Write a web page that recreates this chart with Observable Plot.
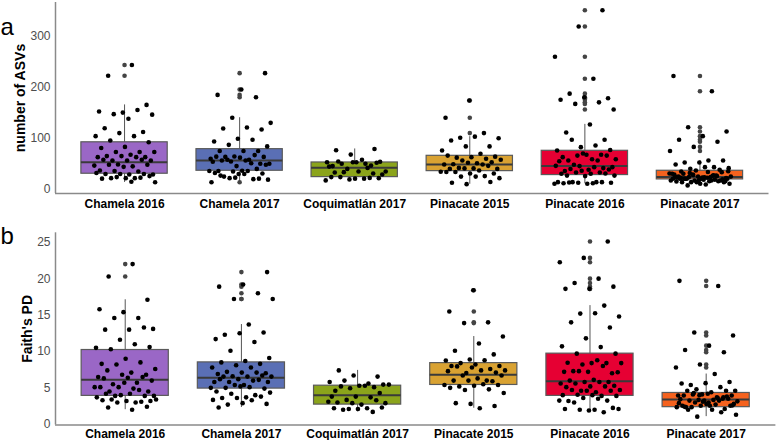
<!DOCTYPE html>
<html><head><meta charset="utf-8">
<script src="https://cdn.jsdelivr.net/npm/d3@7"></script>
<script src="https://cdn.jsdelivr.net/npm/@observablehq/plot@0.6"></script>
<style>
html,body{margin:0;padding:0;background:#fff;}
#chart{width:777px;height:440px;position:relative;overflow:hidden;background:#fff;}
#chart svg{display:block;overflow:visible;}
</style></head><body><div id="chart"></div>
<script>
const groups = ["Chamela 2016", "Chamela 2017", "Coquimatlán 2017", "Pinacate 2015", "Pinacate 2016", "Pinacate 2017"];
const boxColors = ["#9a67c6", "#5a6fb5", "#8ba41b", "#d9a232", "#e60033", "#f5621e"];
const asvTicks = [0, 100, 200, 300];
const faithTicks = [0, 5, 10, 15, 20, 25];

// box statistics
const asvQ1 = [30.6, 36.4, 24, 35.7, 28, 19.5];
const asvMedian = [53, 56.5, 42.3, 48.7, 45.5, 24];
const asvQ3 = [92, 78.6, 52.6, 65.6, 75.4, 36.4];
const asvWhiskerLow = [13.6, 14.2, 17.5, 10, 11, 7.8];
const asvWhiskerHigh = [165, 140, 79, 103, 127, 56.5];

const faithQ1 = [3.9, 4.9, 2.7, 5.4, 3.9, 2.35];
const faithMedian = [6.1, 6.4, 4.0, 6.8, 5.9, 3.4];
const faithQ3 = [10.2, 8.5, 5.3, 8.4, 9.7, 4.3];
const faithWhiskerLow = [2.0, 2.3, 1.7, 2.2, 1.65, 1.05];
const faithWhiskerHigh = [17.1, 13.7, 7.4, 12.05, 16.3, 6.9];

// number of ASVs per sample
const asvChamela2016 = [243, 222, 165, 150, 152, 155, 147, 146, 138, 119.5, 112, 110, 104, 104, 95.5, 92, 83, 81, 73, 73, 73, 67.6, 65, 63, 65, 63, 63, 56.5, 56.5, 56.5, 58, 58, 48.7, 46.5, 45, 48, 48, 44, 37, 35, 36, 29, 29, 30, 30, 30, 32, 22, 22, 26, 22, 21, 23, 24, 14, 15];
const asvChamela2017 = [227, 195, 184.6, 180, 140, 130, 121, 119, 117, 99, 93.5, 97, 87, 84, 75, 75, 75, 64.3, 60, 58, 63.5, 63.5, 62, 64, 67, 54.6, 50, 56.5, 56.5, 50, 45.5, 54, 51, 58, 48, 36.4, 36, 40, 35, 36, 36, 25, 31, 30, 32, 20, 22, 19, 30, 27, 21, 23, 14];
const asvCoquimatlan2017 = [76.6, 79, 68, 53, 50, 50, 54, 53, 45.5, 46.5, 40, 35, 58, 54.6, 52, 53, 44.5, 42, 33.7, 29, 35, 33, 31, 19.5, 17.6, 21, 24, 22, 21, 24, 22.5];
const asvPinacate2015 = [173.5, 140, 110, 101, 100, 103, 95.5, 84, 84, 76, 69.5, 62, 64, 63, 66, 60, 56.5, 58, 51, 49, 53, 52, 48.7, 48.7, 42, 40, 41, 40, 46, 41, 34.5, 37, 34, 31, 31, 34, 26, 25, 22, 25, 13, 14.5, 10.3];
const asvPinacate2016 = [350, 318, 259, 216, 187, 178, 180, 175, 170, 167, 156, 126.7, 111, 97, 82.5, 76, 85.8, 97, 77, 67.6, 63, 67.6, 66, 59, 59, 56.5, 66, 70, 55, 56.5, 48, 43.5, 38.3, 36, 41.6, 45.5, 46, 43.5, 39.8, 39, 26, 30.5, 33, 33, 27, 30.5, 27, 31, 36.4, 14.2, 14.2, 14.2, 13, 11, 12, 14.2, 13, 11, 12, 13.5];
const asvPinacate2017 = [221.6, 191.6, 121.4, 113, 104, 97, 93, 83, 75, 56.5, 52.6, 56.5, 52.6, 48.7, 43.5, 40.3, 41.5, 43.5, 35, 38.3, 37, 30.5, 24, 20.8, 16, 20.8, 24, 27, 29, 25, 22.8, 30.5, 33.7, 25, 29, 26.7, 24, 20.8, 19, 20.8, 16, 17.5, 17.5, 16, 20.8, 14.2, 11, 15.6, 19, 14.2, 11, 9.7, 14.2, 17.5, 14.2, 20.8, 17.5, 7.8, 22, 23, 25, 26, 28, 31, 34, 21, 19.5, 18, 24.5, 27.5, 32, 35.5, 23.5, 22.5];

// Faith's PD per sample
const faithChamela2016 = [22.0, 20.3, 17.1, 15.4, 15.8, 14.6, 14.6, 13.1, 13.0, 13.0, 13.3, 11.6, 10.5, 11.0, 10.3, 10.6, 9.0, 8.3, 8.5, 8.2, 7.6, 7.1, 7.4, 6.8, 6.8, 6.5, 5.7, 5.5, 6.0, 6.4, 6.3, 6.5, 5.1, 5.1, 4.9, 4.5, 4.5, 5.7, 5.1, 4.7, 3.9, 3.9, 4.2, 4.2, 3.9, 4.0, 3.7, 3.0, 3.4, 3.2, 3.2, 3.3, 3.1, 3.0, 3.4, 2.0, 2.3, 2.4];
const faithChamela2017 = [20.9, 19.2, 18.9, 18.0, 17.2, 17.2, 13.7, 12.3, 12.6, 12.5, 11.7, 11.3, 10.1, 9.1, 8.7, 8.5, 8.3, 8.1, 7.8, 7.8, 7.2, 7.0, 7.1, 6.9, 7.1, 6.6, 6.55, 6.55, 6.55, 6.7, 6.2, 5.8, 6.0, 5.8, 5.8, 5.4, 6.2, 6.1, 5.4, 5.0, 5.1, 5.0, 4.9, 5.2, 4.5, 4.0, 4.2, 4.35, 3.7, 3.6, 3.8, 3.6, 3.35, 3.3, 2.7, 2.8, 2.9, 2.3];
const faithCoquimatlan2017 = [7.4, 6.55, 6.7, 5.8, 5.6, 6.0, 5.45, 5.3, 4.6, 5.1, 4.95, 5.45, 5.3, 5.2, 4.3, 3.8, 3.8, 3.7, 3.35, 2.9, 2.7, 3.0, 3.3, 2.9, 3.1, 2.2, 2.0, 2.3, 2.1, 2.2, 1.7, 2.1];
const faithPinacate2015 = [18.4, 15.5, 14.0, 13.9, 12.05, 11.1, 10.1, 9.6, 8.9, 8.75, 8.8, 8.4, 8.0, 8.2, 8.0, 7.6, 7.05, 7.4, 7.4, 7.95, 7.1, 7.8, 7.3, 6.0, 6.7, 6.7, 6.3, 6.0, 5.9, 6.0, 5.4, 5.5, 5.2, 5.4, 5.3, 5.0, 4.8, 4.7, 4.3, 2.2, 2.9, 2.5, 2.8];
const faithPinacate2016 = [25.1, 22.85, 22.25, 20.0, 19.4, 18.9, 18.6, 18.6, 16.3, 15.2, 14.8, 15.25, 14.0, 13.3, 11.8, 10.7, 10.6, 9.7, 9.7, 8.4, 8.45, 8.4, 8.2, 8.4, 8.8, 7.3, 7.0, 7.2, 7.2, 8.0, 7.3, 7.15, 6.1, 6.0, 5.8, 5.8, 5.6, 5.8, 5.6, 5.3, 5.2, 5.1, 5.2, 4.6, 4.7, 4.4, 4.7, 4.6, 4.6, 4.0, 3.9, 4.05, 3.9, 4.0, 3.2, 3.25, 3.6, 3.25, 3.5, 3.0, 2.25, 1.9, 2.1, 1.65, 2.0, 2.1, 2.0];
const faithPinacate2017 = [19.7, 19.0, 12.6, 12.2, 10.8, 10.2, 9.9, 8.2, 7.8, 6.9, 5.4, 5.8, 5.65, 5.6, 5.1, 4.8, 4.6, 4.4, 4.6, 4.6, 4.1, 3.95, 3.7, 4.1, 3.95, 4.2, 3.95, 3.5, 3.35, 3.15, 3.35, 3.25, 3.5, 3.25, 3.45, 3.25, 3.0, 2.8, 2.55, 2.35, 2.1, 2.55, 2.35, 2.7, 2.35, 2.55, 2.8, 2.55, 1.65, 1.05, 1.3, 2.0, 2.0, 3.8, 3.1, 2.9, 3.6, 4.3, 2.6, 3.0, 2.4, 3.7, 4.0];

// deterministic horizontal jitter (position only, not data)
function jitter(i, g) {
  const u = ((i + 1) * 0.6180339887 + g * 0.2912) % 1;
  return (u - 0.5) * 0.54;
}

const FONT = "'Liberation Sans', Arial, Helvetica, sans-serif";

function panel(o) {
  const stats = groups.map((name, g) => ({g, name, q1: o.q1[g], med: o.med[g], q3: o.q3[g], lo: o.lo[g], hi: o.hi[g]}));
  const points = o.samples.flatMap((vals, g) => vals.map((v, i) => ({g, v, x: g + jitter(i, g)})));
  const outliers = points.filter(d => d.v > o.hi[d.g] || d.v < o.lo[d.g]);
  const half = 0.375;
  return Plot.plot({
    width: 777,
    height: o.height,
    marginLeft: 55,
    marginRight: o.marginRight,
    marginTop: o.marginTop,
    marginBottom: o.marginBottom,
    style: {fontFamily: FONT, fontSize: "12px", overflow: "visible", background: "white"},
    x: {type: "linear", domain: [-0.6, 5.6], axis: null},
    y: {domain: o.domain, axis: null},
    color: {domain: groups, range: boxColors},
    marks: [
      Plot.ruleX(stats, {x: "g", y1: "lo", y2: "hi", stroke: "#555", strokeWidth: 1}),
      Plot.rect(stats, {x1: d => d.g - half, x2: d => d.g + half, y1: "q1", y2: "q3", fill: "name", stroke: "#5a5a5a", strokeWidth: 1.2}),
      Plot.ruleY(stats, {y: "med", x1: d => d.g - half, x2: d => d.g + half, stroke: "#3a3a3a", strokeWidth: 2}),
      Plot.dot(outliers, {x: "g", y: "v", r: 2.3, fill: "#444", stroke: null}),
      Plot.dot(points, {x: "x", y: "v", r: 2.3, fill: "black", stroke: null}),
      Plot.ruleX([-0.6], {stroke: "#8a8a8a", strokeWidth: 1.5}),
      Plot.ruleY([o.domain[0]], {stroke: "#8a8a8a", strokeWidth: 1.5}),
      Plot.axisY({ticks: o.ticks, tickSize: 0, tickPadding: 5, label: null, color: "#4d4d4d", fontSize: 12}),
      Plot.axisX({ticks: d3.range(groups.length), tickFormat: i => groups[i], tickSize: 0, tickPadding: o.xPad, label: null, fontWeight: "bold", color: "black", fontSize: 12}),
      Plot.text([o.label], {frameAnchor: "left", dx: o.labelDx, rotate: -90, textAnchor: "middle", lineAnchor: "middle", fontWeight: "bold", fontSize: 14, fill: "black"}),
      Plot.text([o.letter], {frameAnchor: "top-left", dx: -55, dy: o.letterDy, textAnchor: "start", lineAnchor: "bottom", fontSize: 24, fill: "black"})
    ]
  });
}

const chart = document.getElementById("chart");
chart.appendChild(panel({
  letter: "a", label: "number of ASVs",
  samples: [asvChamela2016, asvChamela2017, asvCoquimatlan2017, asvPinacate2015, asvPinacate2016, asvPinacate2017],
  q1: asvQ1, med: asvMedian, q3: asvQ3, lo: asvWhiskerLow, hi: asvWhiskerHigh,
  ticks: asvTicks, domain: [-8, 365],
  height: 215, marginTop: 2, marginBottom: 22, marginRight: 8.5, letterDy: 32, labelDx: -35, xPad: 6
}));
chart.appendChild(panel({
  letter: "b", label: "Faith's PD",
  samples: [faithChamela2016, faithChamela2017, faithCoquimatlan2017, faithPinacate2015, faithPinacate2016, faithPinacate2017],
  q1: faithQ1, med: faithMedian, q3: faithQ3, lo: faithWhiskerLow, hi: faithWhiskerHigh,
  ticks: faithTicks, domain: [-0.1, 26.3],
  height: 225, marginTop: 17.3, marginBottom: 15.5, marginRight: 1.6, letterDy: 11, labelDx: -28, xPad: 4
}));
</script>
</body></html>
